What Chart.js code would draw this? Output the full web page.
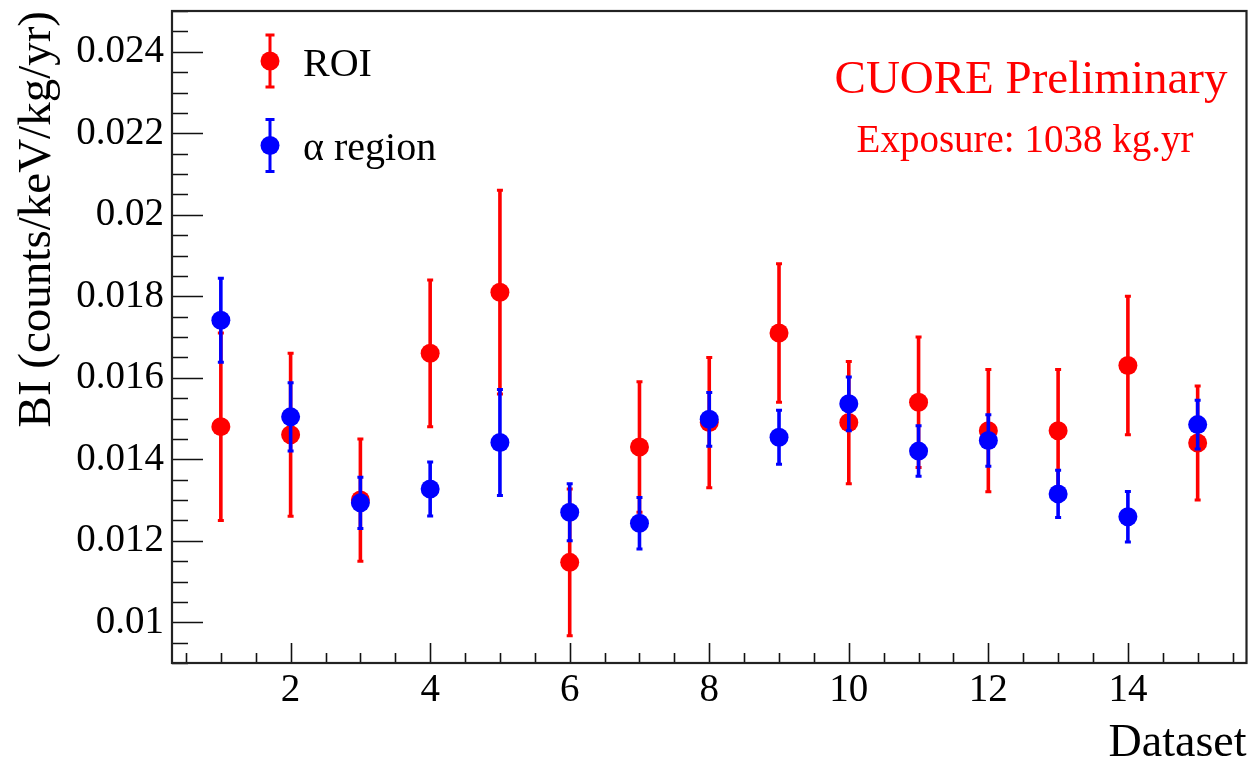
<!DOCTYPE html>
<html><head><meta charset="utf-8">
<script src="https://cdn.jsdelivr.net/npm/chart.js@4.4.1/dist/chart.umd.min.js"></script>
<style>html,body{margin:0;padding:0;background:#fff;}canvas{display:block;}</style>
</head><body>
<canvas id="c" width="1256" height="772"></canvas>
<script>
// ---- data ----
const datasetNumbers = [1, 2, 3, 4, 5, 6, 7, 8, 9, 10, 11, 12, 13, 14, 15];
const roiValues   = [0.0148, 0.0146, 0.0130, 0.0166, 0.0181, 0.01147, 0.0143, 0.0149, 0.0171, 0.0149, 0.0154, 0.0147, 0.0147, 0.0163, 0.0144];
const roiErrors   = [0.0023, 0.0020, 0.0015, 0.0018, 0.0025, 0.0018, 0.0016, 0.0016, 0.0017, 0.0015, 0.0016, 0.0015, 0.0015, 0.0017, 0.0014];
const alphaValues = [0.01741, 0.01504, 0.01293, 0.01327, 0.01441, 0.01270, 0.01243, 0.01498, 0.01454, 0.01536, 0.01420, 0.01446, 0.01315, 0.01259, 0.01485];
const alphaErrors = [0.00103, 0.00084, 0.00063, 0.00066, 0.00130, 0.00070, 0.00063, 0.00066, 0.00066, 0.00066, 0.00062, 0.00063, 0.00058, 0.00062, 0.00060];
const seriesNames = ['ROI', 'α region'];
const xTickValues = [2, 4, 6, 8, 10, 12, 14];
const yTickValues = [0.01, 0.012, 0.014, 0.016, 0.018, 0.02, 0.022, 0.024];
const yTickLabels = ['0.01', '0.012', '0.014', '0.016', '0.018', '0.02', '0.022', '0.024'];
const xRange = [0.3, 15.7];
const yRange = [0.009, 0.025];
const xMinorStep = 0.5, xMajorEvery = 4;
const yMinorStep = 0.0005, yMajorEvery = 4;
const xTitle = 'Dataset';
const yTitle = 'BI (counts/keV/kg/yr)';
const banner = 'CUORE Preliminary';
const exposureText = 'Exposure: 1038 kg.yr';

const FONT = "'Liberation Serif', 'Times New Roman', serif";
const RED = '#ff0000', BLUE = '#0000ff';

function toPoints(xs, ys) { return xs.map((x, i) => ({x: x, y: ys[i]})); }

const rootPlugin = {
  id: 'rootStyle',
  beforeDatasetsDraw(chart) {
    const {ctx, chartArea: a, scales: {x, y}} = chart;
    ctx.save();
    ctx.strokeStyle = '#111';
    ctx.lineWidth = 1.6;
    ctx.beginPath();
    const nx0 = Math.ceil(xRange[0] / xMinorStep), nx1 = Math.floor(xRange[1] / xMinorStep);
    for (let k = nx0; k <= nx1; k++) {
      const px = Math.round(x.getPixelForValue(k * xMinorStep)) + 0.5;
      const len = (k % xMajorEvery === 0) ? 20 : 10;
      ctx.moveTo(px, a.bottom); ctx.lineTo(px, a.bottom - len);
    }
    const ny0 = Math.ceil(yRange[0] / yMinorStep - 1e-6), ny1 = Math.floor(yRange[1] / yMinorStep + 1e-6);
    for (let k = ny0; k <= ny1; k++) {
      const py = Math.round(y.getPixelForValue(k * yMinorStep)) + 0.5;
      const len = (k % yMajorEvery === 0) ? 31 : 16;
      ctx.moveTo(a.left, py); ctx.lineTo(a.left + len, py);
    }
    ctx.stroke();
    ctx.lineWidth = 2.2;
    ctx.strokeStyle = '#222';
    ctx.strokeRect(a.left, a.top, a.right - a.left, a.bottom - a.top);
    ctx.restore();
  },
  beforeDatasetDraw(chart, args) {
    const {ctx, scales: {x, y}} = chart;
    const ds = chart.data.datasets[args.index];
    ctx.save();
    ctx.strokeStyle = ds.backgroundColor;
    ctx.lineCap = 'butt';
    ds.data.forEach((p, i) => {
      const e = ds.errors[i];
      const px = x.getPixelForValue(p.x);
      const hi = y.getPixelForValue(p.y + e);
      const lo = y.getPixelForValue(p.y - e);
      ctx.lineWidth = 3.6;
      ctx.beginPath();
      ctx.moveTo(px, hi); ctx.lineTo(px, lo);
      ctx.stroke();
      ctx.lineWidth = 3;
      ctx.beginPath();
      ctx.moveTo(px - 3, hi); ctx.lineTo(px + 3, hi);
      ctx.moveTo(px - 3, lo); ctx.lineTo(px + 3, lo);
      ctx.stroke();
    });
    ctx.restore();
  },
  afterDraw(chart) {
    const {ctx} = chart;
    ctx.save();
    const entries = [
      {label: seriesNames[0], color: RED, cy: 61},
      {label: seriesNames[1], color: BLUE, cy: 145.5}
    ];
    entries.forEach(en => {
      const cx = 270;
      ctx.strokeStyle = en.color;
      ctx.fillStyle = en.color;
      ctx.lineWidth = 3;
      ctx.beginPath();
      ctx.moveTo(cx, en.cy - 26); ctx.lineTo(cx, en.cy + 26);
      ctx.moveTo(cx - 4.5, en.cy - 26); ctx.lineTo(cx + 4.5, en.cy - 26);
      ctx.moveTo(cx - 4.5, en.cy + 26); ctx.lineTo(cx + 4.5, en.cy + 26);
      ctx.stroke();
      ctx.beginPath();
      ctx.arc(cx, en.cy, 9.5, 0, Math.PI * 2);
      ctx.fill();
      ctx.fillStyle = '#000';
      ctx.font = '40px ' + FONT;
      ctx.textAlign = 'left';
      ctx.textBaseline = 'alphabetic';
      ctx.fillText(en.label, 303, en.cy + 14.5);
    });
    ctx.fillStyle = RED;
    ctx.textAlign = 'center';
    ctx.textBaseline = 'alphabetic';
    ctx.font = '47px ' + FONT;
    ctx.fillText(banner, 1031, 93);
    ctx.font = '39px ' + FONT;
    ctx.fillText(exposureText, 1025, 151.5);
    ctx.restore();
  }
};

const chart = new Chart(document.getElementById('c'), {
  type: 'scatter',
  data: {
    datasets: [
      {label: seriesNames[0], data: toPoints(datasetNumbers, roiValues), errors: roiErrors,
       backgroundColor: RED, borderColor: RED, pointRadius: 9.5, pointHoverRadius: 9.5, borderWidth: 0, order: 1},
      {label: seriesNames[1], data: toPoints(datasetNumbers, alphaValues), errors: alphaErrors,
       backgroundColor: BLUE, borderColor: BLUE, pointRadius: 9.5, pointHoverRadius: 9.5, borderWidth: 0, order: 0}
    ]
  },
  options: {
    responsive: false,
    animation: false,
    events: [],
    layout: {padding: {left: 0, top: 11, right: 9, bottom: 0}},
    plugins: {legend: {display: false}, tooltip: {enabled: false}},
    scales: {
      x: {
        type: 'linear', min: xRange[0], max: xRange[1],
        grid: {display: false, drawTicks: false},
        border: {display: false},
        afterBuildTicks: s => { s.ticks = xTickValues.map(v => ({value: v})); },
        afterFit: s => { s.height = 109; s.paddingLeft = 0; s.paddingRight = 0; },
        ticks: {font: {family: FONT, size: 39}, color: '#000', padding: 4, maxRotation: 0, autoSkip: false,
                callback: v => String(v)},
        title: {display: true, text: xTitle, align: 'end', color: '#000',
                font: {family: FONT, size: 46}, padding: {top: 0, bottom: 0}}
      },
      y: {
        type: 'linear', min: yRange[0], max: yRange[1],
        grid: {display: false, drawTicks: false},
        border: {display: false},
        afterBuildTicks: s => { s.ticks = yTickValues.map(v => ({value: v})); },
        afterFit: s => { s.width = 172; s.paddingTop = 0; s.paddingBottom = 0; },
        ticks: {font: {family: FONT, size: 39}, color: '#000', padding: 8, autoSkip: false,
                callback: (v, i) => yTickLabels[i]},
        title: {display: true, text: yTitle, align: 'end', color: '#000',
                font: {family: FONT, size: 47}, padding: {top: 9, bottom: 0}}
      }
    }
  },
  plugins: [rootPlugin]
});
</script>
</body></html>
